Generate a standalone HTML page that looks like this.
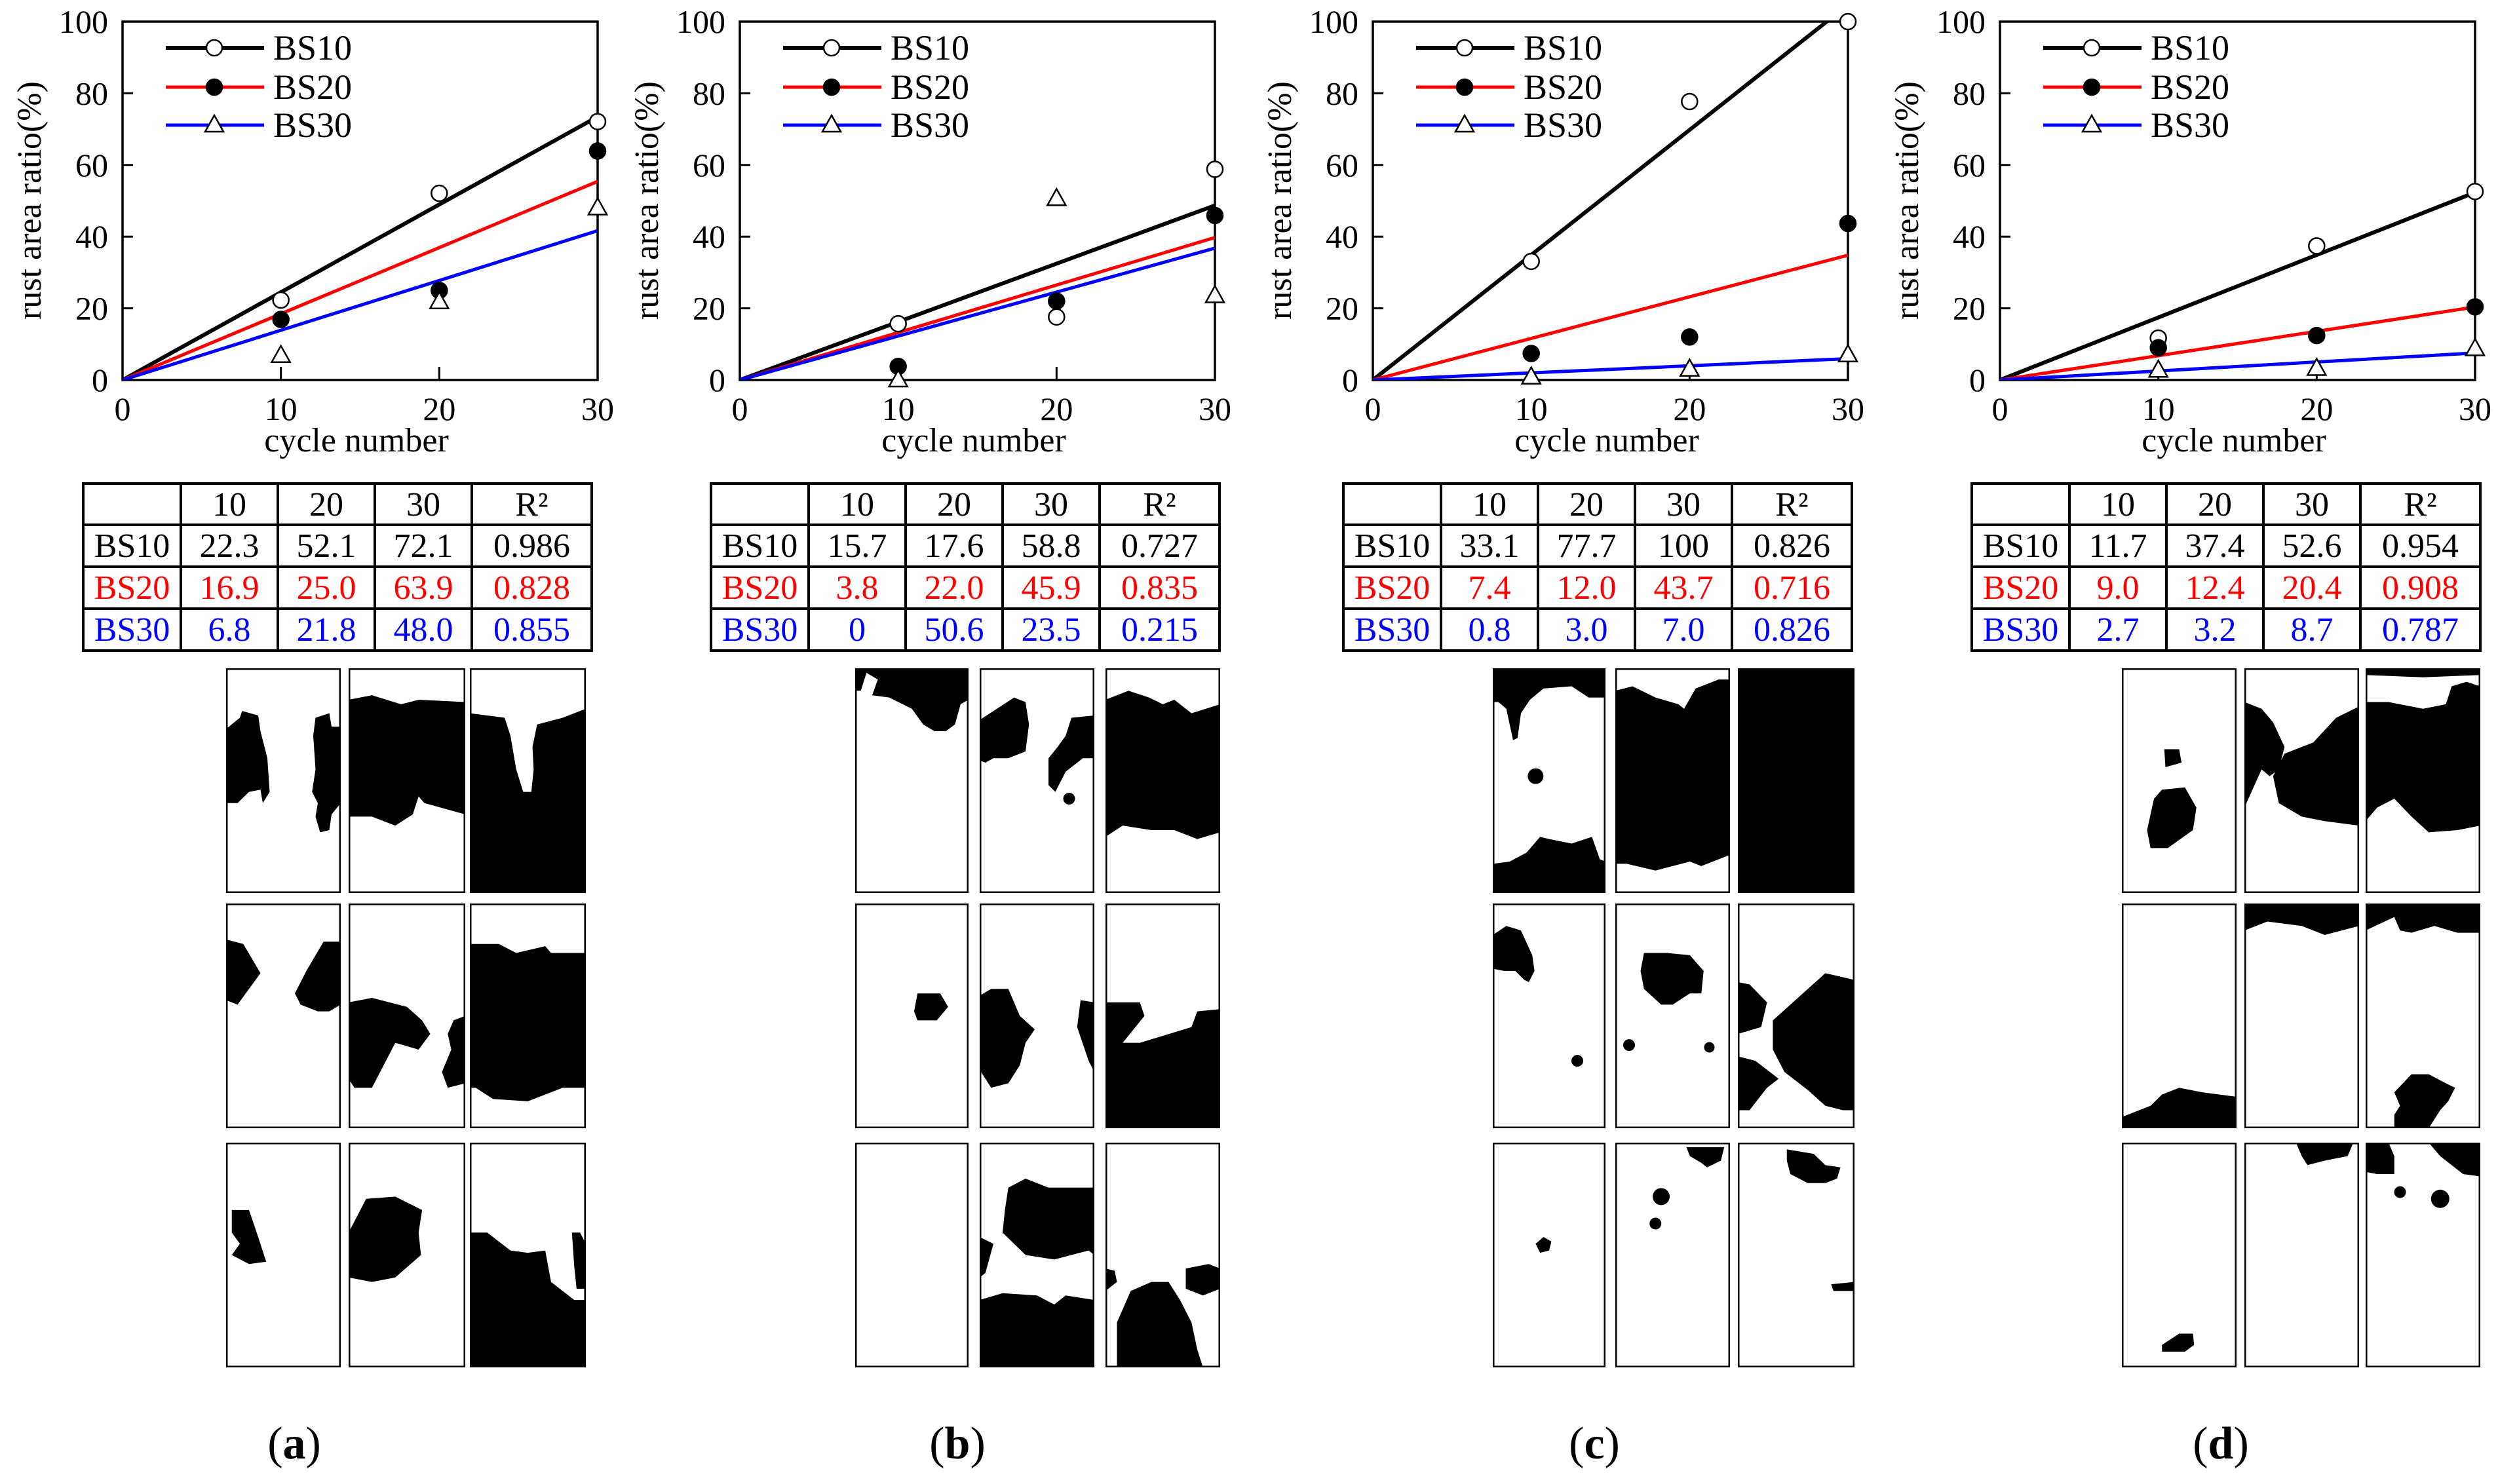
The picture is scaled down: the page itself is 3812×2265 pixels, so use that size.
<!DOCTYPE html>
<html><head><meta charset="utf-8">
<style>
html,body{margin:0;padding:0;background:#fff;}
svg, svg text{font-family:"Liberation Serif","DejaVu Serif",serif;}
</style></head>
<body>
<svg id="fig" xmlns="http://www.w3.org/2000/svg" width="3812" height="2260" viewBox="0 0 3812 2260" font-family="Liberation Serif, DejaVu Serif, serif">
<rect width="3812" height="2260" fill="#fff"/>
</svg>
<script>
const cycles = [10, 20, 30];
const xTicks = [0, 10, 20, 30];
const yTicks = [0, 20, 40, 60, 80, 100];
const panelNames = ["a", "b", "c", "d"];
const seriesNames = ["BS10", "BS20", "BS30"];
const a_bs10 = [22.3, 52.1, 72.1], a_bs20 = [16.9, 25.0, 63.9], a_bs30 = [6.8, 21.8, 48.0];
const a_r2 = ["0.986", "0.828", "0.855"];
const b_bs10 = [15.7, 17.6, 58.8], b_bs20 = [3.8, 22.0, 45.9], b_bs30 = [0, 50.6, 23.5];
const b_r2 = ["0.727", "0.835", "0.215"];
const c_bs10 = [33.1, 77.7, 100], c_bs20 = [7.4, 12.0, 43.7], c_bs30 = [0.8, 3.0, 7.0];
const c_r2 = ["0.826", "0.716", "0.826"];
const d_bs10 = [11.7, 37.4, 52.6], d_bs20 = [9.0, 12.4, 20.4], d_bs30 = [2.7, 3.2, 8.7];
const d_r2 = ["0.954", "0.908", "0.787"];
const tableLabels = [["22.3","52.1","72.1"],["16.9","25.0","63.9"],["6.8","21.8","48.0"],
 ["15.7","17.6","58.8"],["3.8","22.0","45.9"],["0","50.6","23.5"],
 ["33.1","77.7","100"],["7.4","12.0","43.7"],["0.8","3.0","7.0"],
 ["11.7","37.4","52.6"],["9.0","12.4","20.4"],["2.7","3.2","8.7"]];

const panelSeries = [[a_bs10,a_bs20,a_bs30],[b_bs10,b_bs20,b_bs30],[c_bs10,c_bs20,c_bs30],[d_bs10,d_bs20,d_bs30]];
const panelR2 = [a_r2,b_r2,c_r2,d_r2];

const PX = [187, 1129, 2095, 3052];
const TL = [127, 1085, 2050, 3009];
const PW = 725, Y0 = 580, Y100 = 33;
const colors = ["#000", "#ff0000", "#0000ff"];
const LBLX = [449, 1461, 2433, 3389];
const IMGCOLS = [[[345,520],[532,710],[717,894]],[[1305,1478],[1495,1670],[1687,1862]],[[2278,2450],[2465,2640],[2652,2830]],[[3238,3413],[3425,3600],[3610,3785]]];
const IMGROWS = [[1020,1363],[1379,1722],[1744,2087]];
const FONT = "Liberation Serif, DejaVu Serif, serif";

const B = {
a:[[{p:[[0,27,12,22,14,19,28,21,30,28,36,40,38,55,32,60,30,54,20,55,10,60,0,60],[78,22,90,20,92,26,100,26,100,60,92,65,90,72,82,73,78,66,80,60,75,55,78,45,76,30]]},
    {p:[[0,14,20,12,45,16,60,14,100,15,100,65,65,60,60,57,55,65,40,70,20,66,0,66]]},
    {p:[[0,20,30,22,35,30,40,45,46,55,53,55,55,45,54,35,58,25,80,22,100,18,100,100,0,100]]}],
   [{p:[[0,16,15,18,30,31,20,38,10,45,0,43],[100,17,85,17,70,30,60,40,65,45,80,48,90,48,100,45]]},
    {p:[[0,44,20,42,50,46,63,52,70,58,60,65,40,62,30,72,20,82,5,82,0,78],[100,50,90,52,85,58,88,65,80,75,85,82,100,80]]},
    {p:[[0,18,25,18,40,22,65,19,70,22,100,22,100,82,80,82,50,88,20,87,5,82,0,82]]}],
   [{p:[[5,30,20,30,28,42,35,53,20,54,5,50,12,45,5,40]]},
    {p:[[0,40,15,25,40,24,63,30,60,40,62,50,40,60,20,62,0,60]]},
    {p:[[0,40,15,40,35,48,50,49,65,48,70,62,90,70,100,70,100,100,0,100],[88,40,95,40,100,45,100,65,92,65,90,55]]}]],
b:[[{p:[[0,0,100,0,100,14,93,16,88,25,80,28,70,28,60,25,50,18,30,13,15,12,20,5,10,2,5,10,0,10]]},
    {p:[[0,23,15,18,30,13,40,15,43,25,40,37,25,40,12,40,5,42,0,41],[100,21,80,22,75,30,68,35,60,40,60,52,66,55,75,46,90,40,100,40]],d:[[78,58,9]]},
    {p:[[0,14,20,10,38,13,50,16,60,14,75,20,100,16,100,73,80,76,60,72,40,72,15,70,0,75]]}],
   [{p:[[55,40,75,40,82,46,72,52,55,52,52,48]]},
    {p:[[0,41,10,38,25,38,35,50,48,56,40,62,35,72,25,80,10,82,0,74],[100,44,88,43,85,55,95,70,100,75]]},
    {p:[[0,44,30,44,34,50,15,62,30,62,75,55,80,48,100,47,100,100,0,100]]}],
   [{p:[]},
    {p:[[25,20,40,16,60,20,100,20,100,50,95,48,80,50,65,52,40,50,30,45,20,40,22,30],[0,42,12,45,5,58,0,60],[0,70,20,67,50,68,65,72,75,68,100,70,100,100,0,100]]},
    {p:[[0,56,8,57,10,62,0,66],[70,56,90,54,100,56,100,65,85,68,70,65],[10,100,10,80,22,66,40,62,55,62,65,70,75,80,80,92,85,100]]}]],
c:[[{p:[[0,0,100,0,100,13,85,13,70,8,45,9,33,14,25,20,22,31,18,32,12,18,5,15,0,15],[0,87,15,86,30,82,42,75,50,76,70,78,88,75,95,85,100,86,100,100,0,100]],d:[[38,48,12]]},
    {p:[[0,10,15,8,35,13,55,16,60,18,70,9,90,5,100,5,100,83,75,88,65,86,35,90,10,87,0,87]]},
    {p:[[0,0,100,0,100,100,0,100]]}],
   [{p:[[0,14,12,10,25,12,35,23,37,30,32,35,28,34,20,30,10,30,0,29]],d:[[75,70,9]]},
    {p:[[25,22,45,22,65,23,77,30,75,40,65,40,50,45,40,45,25,38,22,30]],d:[[12,63,9],[82,64,8]]},
    {p:[[0,35,10,36,25,44,20,55,0,58],[0,68,15,70,35,78,25,82,10,92,0,92],[100,34,75,31,60,38,45,45,30,52,30,65,40,75,60,83,75,90,90,92,100,92]]}],
   [{p:[[38,45,45,42,52,44,50,48,42,49]]},
    {p:[[62,2,95,2,92,8,80,11,75,9,65,6]],d:[[40,24,13],[35,36,9]]},
    {p:[[42,3,65,5,75,10,88,11,85,16,75,18,60,18,45,14,42,8],[80,63,100,62,100,66,82,66]]}]],
d:[[{p:[[37,36,50,36,52,42,38,44],[28,58,35,54,55,53,65,62,62,72,40,80,25,80,22,72]]},
    {p:[[0,15,15,18,25,24,35,35,30,45,22,48,15,45,0,62],[100,17,80,22,60,33,35,38,25,48,30,60,50,66,70,68,100,70]]},
    {p:[[0,0,100,0,100,3,50,4,0,3],[0,15,20,15,50,18,70,16,75,8,88,6,100,8,100,70,80,72,55,73,40,66,25,58,10,62,0,68]]}],
   [{p:[[0,95,25,90,35,85,50,82,70,84,100,86,100,100,0,100]]},
    {p:[[0,12,20,8,50,10,70,14,100,10,100,0,0,0]]},
    {p:[[0,0,100,0,100,13,80,13,60,10,40,13,30,12,25,6,0,12],[25,84,40,76,55,76,70,80,78,82,72,88,65,92,55,100,25,100,25,94,30,90]]}],
   [{p:[[35,90,50,85,62,85,63,90,55,93,35,93]]},
    {p:[[45,0,95,0,90,6,70,8,55,10,50,6]]},
    {p:[[0,0,20,0,25,6,25,14,10,14,0,13],[55,0,100,0,100,15,85,14,75,10,65,6]],d:[[30,22,9],[65,25,14]]}]]
};

const NS = "http://www.w3.org/2000/svg";
const svg = document.getElementById("fig");
function mk(tag, attrs, parent) {
  const e = document.createElementNS(NS, tag);
  for (const k in attrs) e.setAttribute(k, attrs[k]);
  (parent || svg).appendChild(e);
  return e;
}
function txt(s, attrs, parent) { attrs["font-family"] = FONT; const e = mk("text", attrs, parent); e.textContent = s; return e; }
function slopeOf(vals) { let sxy = 0, sxx = 0; for (let i = 0; i < cycles.length; i++) { sxy += cycles[i] * vals[i]; sxx += cycles[i] * cycles[i]; } return sxy / sxx; }

panelNames.forEach((pn, pi) => {
  const X = PX[pi];
  const xS = v => X + v / 30 * PW;
  const yS = v => Y0 - v / 100 * (Y0 - Y100);
  const g = mk("g", {});
  
  
  const cp = mk("clipPath", {id: "clip" + pn}, g);
  mk("rect", {x: X, y: Y100, width: PW, height: Y0 - Y100}, cp);
  const fr = mk("rect", {x: X, y: Y100, width: PW, height: Y0 - Y100, fill: "none", stroke: "#000", "stroke-width": 3.5}, g);
  
  
  yTicks.forEach(t => {
    const y = yS(t);
    mk("line", {x1: X, x2: X + 16, y1: y, y2: y, stroke: "#000", "stroke-width": 3}, g);
    const lab = txt(String(t), {x: X - 22, y: y + 17, "font-size": 50, "text-anchor": "end", fill: "#000"}, g);
    
    
  });
  xTicks.forEach(t => {
    const x = xS(t);
    mk("line", {x1: x, x2: x, y1: Y0, y2: Y0 - 20, stroke: "#000", "stroke-width": 3}, g);
    const lab = txt(String(t), {x: x, y: 641, "font-size": 50, "text-anchor": "middle", fill: "#000"}, g);
    
    
  });
  const xt = txt("cycle number", {x: X + 357, y: 689, "font-size": 52, "text-anchor": "middle"}, g);
  
  
  const yt = txt("rust area ratio(%)", {x: 0, y: 0, "font-size": 52, "text-anchor": "middle", transform: "translate(" + (X - 125) + ",306) rotate(-90)"}, g);
  
  
  panelSeries[pi].forEach((vals, si) => {
    const s = slopeOf(vals);
    const ln = mk("line", {x1: xS(0), y1: yS(0), x2: xS(30), y2: yS(s * 30), stroke: colors[si], "stroke-width": si === 0 ? 6 : 5, "clip-path": "url(#clip" + pn + ")"}, g);
    
    
  });
  panelSeries[pi].forEach((vals, si) => {
    vals.forEach((v, i) => {
      const cx = xS(cycles[i]), cy = yS(v);
      let m;
      if (si === 0) m = mk("circle", {cx: cx, cy: cy, r: 12, fill: "#fff", stroke: "#000", "stroke-width": 2.5}, g);
      else if (si === 1) m = mk("circle", {cx: cx, cy: cy, r: 12, fill: "#000", stroke: "#000", "stroke-width": 2.5}, g);
      else m = mk("polygon", {points: [cx, cy - 15, cx + 14, cy + 10, cx - 14, cy + 10].join(" "), fill: "#fff", stroke: "#000", "stroke-width": 2.5}, g);
      
      
    });
  });
  const lg = mk("g", {}, g);
  
  
  [73, 133, 191].forEach((ly, si) => {
    mk("line", {x1: X + 66, x2: X + 216, y1: ly, y2: ly, stroke: colors[si], "stroke-width": si === 0 ? 6 : 5}, lg);
    const cx = X + 140;
    if (si === 0) mk("circle", {cx: cx, cy: ly, r: 12, fill: "#fff", stroke: "#000", "stroke-width": 2.5}, lg);
    else if (si === 1) mk("circle", {cx: cx, cy: ly, r: 12, fill: "#000", stroke: "#000", "stroke-width": 2.5}, lg);
    else mk("polygon", {points: [cx, ly - 15, cx + 14, ly + 10, cx - 14, ly + 10].join(" "), fill: "#fff", stroke: "#000", "stroke-width": 2.5}, lg);
    const t = txt(seriesNames[si], {x: X + 230, y: ly + 18, "font-size": 54}, lg);
    
    
  });
  const L = TL[pi];
  const colX = [0, 149, 297, 445, 593, 776].map(c => L + c);
  const rowY = [738, 801, 865, 929, 993];
  const tg = mk("g", {}, svg);
  
  
  mk("rect", {x: colX[0], y: rowY[0], width: colX[5] - colX[0], height: rowY[4] - rowY[0], fill: "none", stroke: "#000", "stroke-width": 4}, tg);
  colX.slice(1, 5).forEach(cx => mk("line", {x1: cx, x2: cx, y1: rowY[0], y2: rowY[4], stroke: "#000", "stroke-width": 4}, tg));
  rowY.slice(1, 4).forEach(ry => mk("line", {x1: colX[0], x2: colX[5], y1: ry, y2: ry, stroke: "#000", "stroke-width": 4}, tg));
  const head = ["", "10", "20", "30", "R²"];
  head.forEach((h, ci) => { if (h) txt(h, {x: (colX[ci] + colX[ci + 1]) / 2, y: rowY[0] + 49, "font-size": 52, "text-anchor": "middle"}, tg); });
  seriesNames.forEach((sn, si) => {
    const y = rowY[si + 1] + 49;
    const cells = [sn].concat(tableLabels[pi * 3 + si], [panelR2[pi][si]]);
    cells.forEach((c, ci) => {
      const t = txt(c, {x: (colX[ci] + colX[ci + 1]) / 2, y: y, "font-size": 52, "text-anchor": "middle", fill: colors[si]}, tg);
      
      
    });
  });
  const ig = mk("g", {}, svg);
  
  
  IMGROWS.forEach((r, ri) => {
    IMGCOLS[pi].forEach((c, ci) => {
      const w = c[1] - c[0], h = r[1] - r[0];
      const s = mk("svg", {x: c[0], y: r[0], width: w, height: h, viewBox: "0 0 100 100", preserveAspectRatio: "none"}, ig);
      
      
      mk("rect", {x: 0, y: 0, width: 100, height: 100, fill: "#fff"}, s);
      const spec = B[pn][ri][ci];
      (spec.p || []).forEach(pts => {
        const arr = [];
        for (let k = 0; k < pts.length; k += 2) arr.push(pts[k] + "," + pts[k + 1]);
        mk("polygon", {points: arr.join(" "), fill: "#000"}, s);
      });
      (spec.d || []).forEach(dd => mk("ellipse", {cx: dd[0], cy: dd[1], rx: dd[2] / w * 100, ry: dd[2] / h * 100, fill: "#000"}, s));
      mk("rect", {x: 0, y: 0, width: 100, height: 100, fill: "none", stroke: "#000", "stroke-width": 5, "vector-effect": "non-scaling-stroke"}, s);
    });
  });
  const pl = mk("text", {x: LBLX[pi], y: 2226, "font-size": 70, "text-anchor": "middle", "font-family": FONT}, svg);
  
  
  const t1 = mk("tspan", {}, pl); t1.textContent = "(";
  const t2 = mk("tspan", {"font-weight": "bold"}, pl); t2.textContent = pn;
  const t3 = mk("tspan", {}, pl); t3.textContent = ")";
});
</script>
</body></html>
